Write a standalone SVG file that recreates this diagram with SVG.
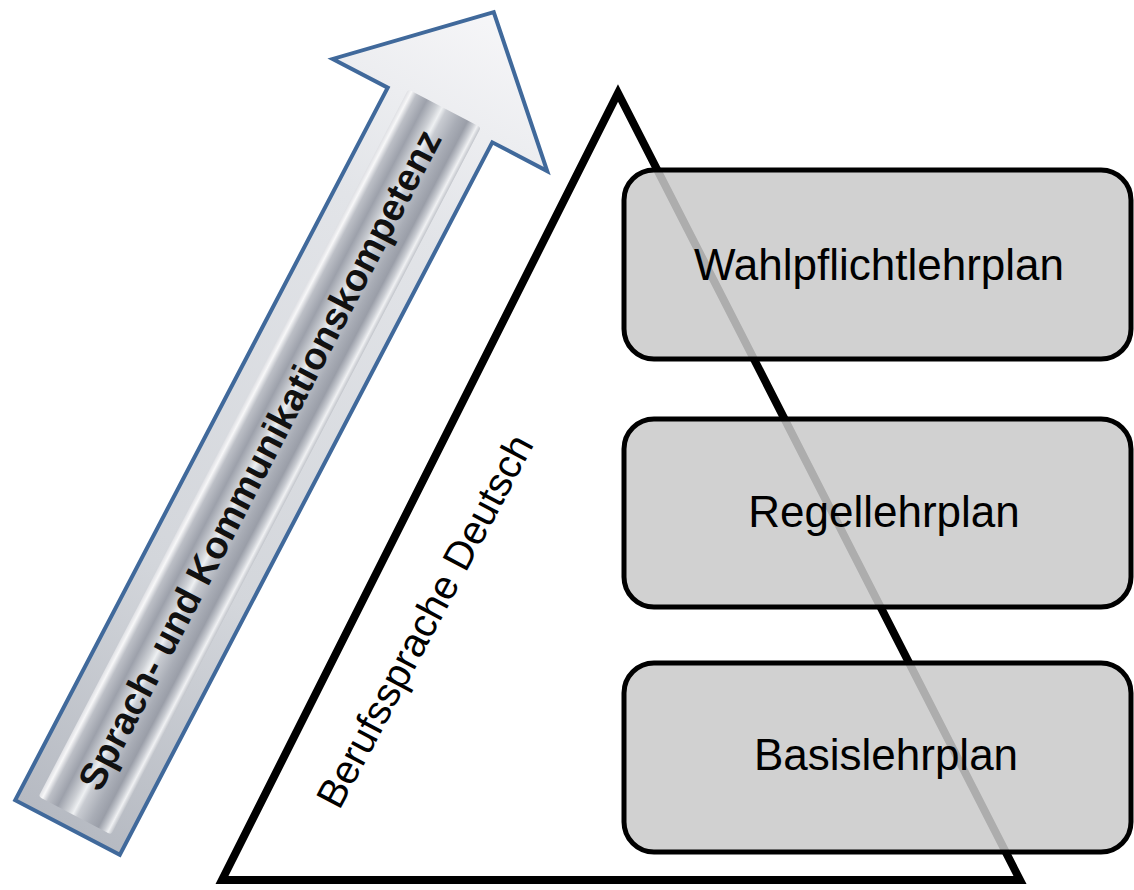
<svg xmlns="http://www.w3.org/2000/svg" width="1134" height="890" viewBox="0 0 1134 890">
  <style>
    .box { fill: #c9c9c9; fill-opacity: 0.86; stroke: #000; stroke-width: 5; }
    .boxtext { font-family: "Liberation Sans", Arial, sans-serif; font-size: 44px; fill: #000; text-anchor: middle; }
    .tri { fill: none; stroke: #000; stroke-width: 8; stroke-linejoin: miter; }
    .arrowtext { font-family: "Liberation Sans", Arial, sans-serif; font-size: 38px; font-weight: bold; fill: #111; text-anchor: middle; }
    .sidetext { font-family: "Liberation Sans", Arial, sans-serif; font-size: 40px; fill: #000; text-anchor: middle; }
  </style>
  <defs>
    <linearGradient id="outerGrad" gradientUnits="userSpaceOnUse" x1="0" y1="0" x2="920" y2="0">
      <stop offset="0" stop-color="#b6bac2"/>
      <stop offset="0.3" stop-color="#d3d6db"/>
      <stop offset="0.75" stop-color="#e2e4e8"/>
      <stop offset="1" stop-color="#f6f6f8"/>
    </linearGradient>
    <linearGradient id="tubeGrad" gradientUnits="userSpaceOnUse" x1="0" y1="-40" x2="0" y2="42">
      <stop offset="0" stop-color="#dfe0e4"/>
      <stop offset="0.05" stop-color="#f7f7f8"/>
      <stop offset="0.12" stop-color="#bcbfc6"/>
      <stop offset="0.26" stop-color="#9da1ab"/>
      <stop offset="0.40" stop-color="#cdd0d5"/>
      <stop offset="0.47" stop-color="#eef0f2"/>
      <stop offset="0.53" stop-color="#c8cbd1"/>
      <stop offset="0.70" stop-color="#a9adb6"/>
      <stop offset="0.82" stop-color="#9a9ea8"/>
      <stop offset="0.90" stop-color="#c9ccd2"/>
      <stop offset="0.95" stop-color="#f0f1f3"/>
      <stop offset="1" stop-color="#c2c5cb"/>
    </linearGradient>
  </defs>

  <g id="arrow" transform="translate(67.5,827.5) rotate(-62.4)">
    <polygon points="0,-59 804,-59 804,-121 920,0 804,121 804,59 0,59" fill="url(#outerGrad)" stroke="#40699b" stroke-width="4" stroke-linejoin="miter"/>
    <rect x="14" y="-40" width="798" height="82" rx="3" fill="url(#tubeGrad)"/>
    <text class="arrowtext" x="415" y="13">Sprach- und Kommunikationskompetenz</text>
  </g>

  <g id="pyramid">
    <polygon class="tri" points="618,93 222,880 1020,880"/>
    <text class="sidetext" transform="translate(424.5,621) rotate(-62)" x="0" y="14">Berufssprache Deutsch</text>
  </g>

  <g id="wahlpflicht">
    <rect class="box" x="624" y="170" width="507" height="189" rx="30" ry="30"/>
    <text class="boxtext" x="879" y="280">Wahlpflichtlehrplan</text>
  </g>
  <g id="regel">
    <rect class="box" x="624" y="419" width="507" height="188" rx="30" ry="30"/>
    <text class="boxtext" x="884" y="527">Regellehrplan</text>
  </g>
  <g id="basis">
    <rect class="box" x="624" y="663" width="507" height="189" rx="30" ry="30"/>
    <text class="boxtext" x="886" y="770">Basislehrplan</text>
  </g>

  <g id="connectors"></g>
</svg>
